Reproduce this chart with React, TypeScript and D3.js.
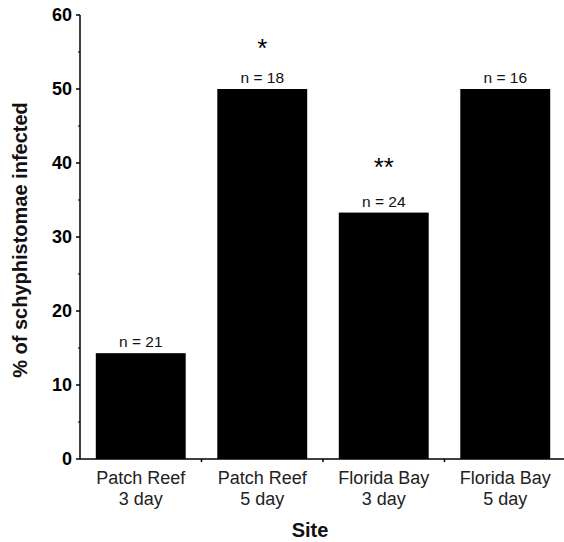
import { useEffect, useRef } from "react";
import * as d3 from "d3";

const sites = ["Patch Reef|3 day", "Patch Reef|5 day", "Florida Bay|3 day", "Florida Bay|5 day"];
const infected = [14.3, 50, 33.3, 50];
const sampleSizes = [21, 18, 24, 16];
const stars = ["", "*", "**", ""];
// height (in % units) where each significance mark sits
const starLevels = [0, 56.2, 40.2, 0];
const yTicks = [0, 10, 20, 30, 40, 50, 60];
const yMinorTicks = [5, 15, 25, 35, 45, 55];

const App = () => {
    const ref = useRef<SVGSVGElement>(null);

    useEffect(() => {
        const svg = d3.select(ref.current);
        svg.selectAll("*").remove();

        const margin = { top: 15, right: -2, bottom: 83, left: 80 };
        const W = 564, H = 542;
        const width = W - margin.left - margin.right;
        const height = H - margin.top - margin.bottom;
        const font = "Arial, 'Liberation Sans', Helvetica, sans-serif";

        const g = svg.append("g").attr("transform", `translate(${margin.left},${margin.top})`);

        const x = d3.scaleBand().domain(sites).range([0, width]).paddingInner(0.26).paddingOuter(0.13);
        const y = d3.scaleLinear().domain([0, 60]).range([height, 0]);

        // bars
        g.selectAll(".bar")
            .data(sites)
            .enter().append("rect")
            .attr("x", d => x(d)!)
            .attr("width", x.bandwidth())
            .attr("y", (d, i) => y(infected[i]))
            .attr("height", (d, i) => height - y(infected[i]))
            .attr("fill", "#000");

        // n labels
        g.selectAll(".nlab")
            .data(sites)
            .enter().append("text")
            .attr("x", d => x(d)! + x.bandwidth() / 2)
            .attr("y", (d, i) => y(infected[i]) - 6)
            .attr("text-anchor", "middle")
            .attr("font-family", font)
            .attr("font-size", 15.5)
            .attr("fill", "#111")
            .text((d, i) => `n = ${sampleSizes[i]}`);

        // significance stars
        g.selectAll(".star")
            .data(sites)
            .enter().append("text")
            .attr("x", d => x(d)! + x.bandwidth() / 2)
            .attr("y", (d, i) => y(starLevels[i]))
            .attr("dy", "0.55em")
            .attr("text-anchor", "middle")
            .attr("font-family", font)
            .attr("font-size", 26)
            .text((d, i) => stars[i]);

        // y axis
        const yAxis = g.append("g");
        yAxis.append("line").attr("x1", 0).attr("x2", 0).attr("y1", 0).attr("y2", height)
            .attr("stroke", "#000").attr("stroke-width", 1.5);
        yAxis.selectAll(".major").data(yTicks).enter().append("line")
            .attr("x1", -4).attr("x2", 0).attr("y1", d => y(d)).attr("y2", d => y(d))
            .attr("stroke", "#000").attr("stroke-width", 1.5);
        yAxis.selectAll(".minor").data(yMinorTicks).enter().append("line")
            .attr("x1", -2).attr("x2", 0).attr("y1", d => y(d)).attr("y2", d => y(d))
            .attr("stroke", "#000").attr("stroke-width", 1.2);
        yAxis.selectAll(".ylab").data(yTicks).enter().append("text")
            .attr("x", -8).attr("y", d => y(d)).attr("dy", "0.36em")
            .attr("text-anchor", "end")
            .attr("font-family", font).attr("font-size", 18).attr("font-weight", "bold")
            .text(d => d);

        // x axis
        const xAxis = g.append("g").attr("transform", `translate(0,${height})`);
        xAxis.append("line").attr("x1", 0).attr("x2", width)
            .attr("stroke", "#000").attr("stroke-width", 1.5);
        const step = x.step();
        const bounds = sites.slice(1).map(d => x(d)! - step * x.paddingInner() / 2);
        xAxis.selectAll(".xtick").data(bounds).enter().append("line")
            .attr("x1", d => d).attr("x2", d => d).attr("y1", 0).attr("y2", 3)
            .attr("stroke", "#000").attr("stroke-width", 1.5);
        const lab = xAxis.selectAll(".xlab").data(sites).enter().append("text")
            .attr("text-anchor", "middle")
            .attr("font-family", font).attr("font-size", 18)
            .attr("fill", "#222");
        lab.each(function (d) {
            const parts = d.split("|");
            const t = d3.select(this);
            parts.forEach((p, i) => {
                t.append("tspan")
                    .attr("x", x(d)! + x.bandwidth() / 2)
                    .attr("y", 25 + i * 21)
                    .text(p);
            });
        });

        // axis titles
        g.append("text")
            .attr("x", 310 - margin.left).attr("y", height + 78)
            .attr("text-anchor", "middle")
            .attr("font-family", font).attr("font-size", 20).attr("font-weight", "bold")
            .attr("fill", "#111")
            .text("Site");

        g.append("text")
            .attr("transform", `translate(${27 - margin.left},${240 - margin.top}) rotate(-90)`)
            .attr("text-anchor", "middle")
            .attr("font-family", font).attr("font-size", 20).attr("font-weight", "bold")
            .attr("fill", "#111")
            .text("% of schyphistomae infected");
    }, []);

    return (
        <svg ref={ref} width={564} height={542}
            style={{ position: "absolute", left: 0, top: 0, background: "#fff" }} />
    );
};

export default App;
